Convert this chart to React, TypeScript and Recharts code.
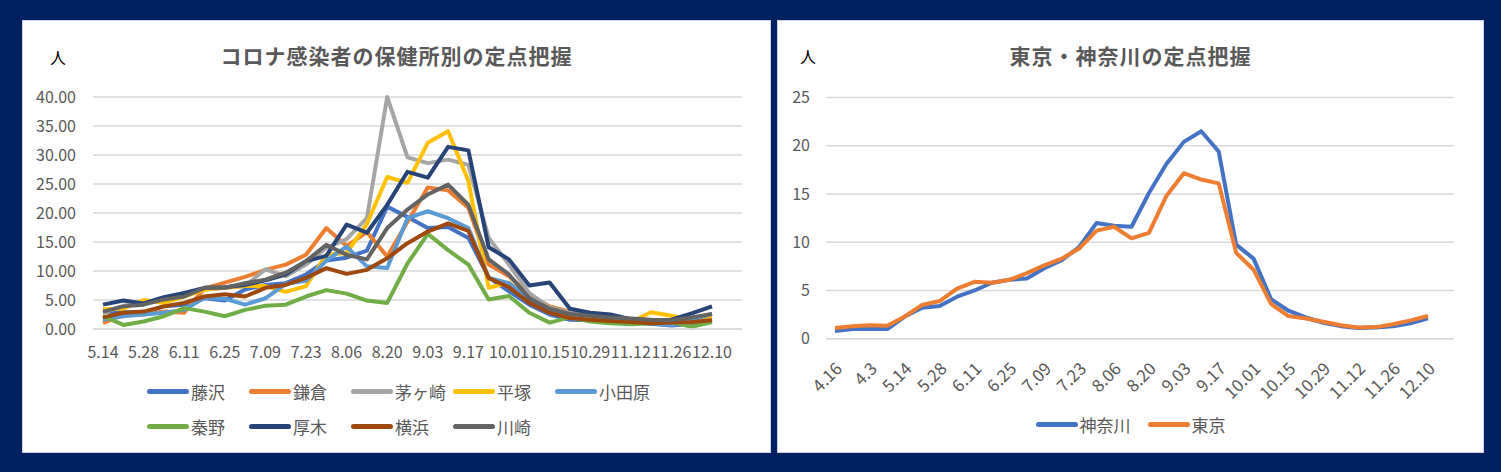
import { LineChart, Line, XAxis, YAxis, CartesianGrid, Legend } from 'recharts'

const FONT = '"Noto Sans CJK JP", "Noto Sans", sans-serif'
const TEXT = '#595959'
const GRID = '#d9d9d9'

// --- left chart: 保健所別 (weekly, 5.14 - 12.10)
const weeks = [
  '5.14', '5.21', '5.28', '6.04', '6.11', '6.18', '6.25', '7.02', '7.09', '7.16', '7.23',
  '7.30', '8.06', '8.13', '8.20', '8.27', '9.03', '9.10', '9.17', '9.24', '10.01', '10.08',
  '10.15', '10.22', '10.29', '11.05', '11.12', '11.19', '11.26', '12.03', '12.10',
]
const fujisawa = [3.0, 2.9, 2.8, 3.9, 4.2, 5.3, 4.9, 6.8, 7.6, 7.9, 9.4, 11.8, 12.3, 13.5, 21.1, 19.3, 17.4, 17.6, 15.7, 8.9, 6.5, 4.2, 2.5, 1.6, 1.5, 1.3, 1.1, 0.9, 0.6, 0.9, 1.6]
const kamakura = [1.0, 2.5, 2.5, 3.0, 2.8, 7.0, 8.0, 9.0, 10.2, 11.1, 12.8, 17.4, 14.3, 16.7, 12.5, 18.5, 24.4, 23.9, 20.9, 11.1, 9.1, 5.9, 3.9, 3.0, 2.5, 2.0, 1.5, 1.3, 1.2, 1.1, 1.2]
const chigasaki = [2.8, 4.0, 4.4, 5.1, 5.9, 6.8, 7.1, 7.4, 10.3, 9.1, 11.1, 14.0, 15.5, 19.1, 40.0, 29.6, 28.6, 29.2, 28.3, 15.7, 11.1, 6.2, 3.7, 2.8, 2.3, 2.0, 1.6, 1.3, 1.2, 1.6, 2.0]
const hiratsuka = [3.4, 3.5, 5.0, 4.5, 5.6, 6.8, 7.1, 7.4, 7.4, 6.4, 7.4, 12.8, 13.1, 18.1, 26.2, 25.2, 32.1, 34.1, 25.5, 7.1, 8.0, 5.0, 3.5, 2.3, 1.7, 1.3, 1.2, 2.9, 2.3, 1.6, 1.9]
const odawara = [1.6, 2.2, 2.5, 2.8, 3.3, 5.4, 5.2, 4.2, 5.3, 7.8, 8.3, 11.8, 14.2, 10.8, 10.5, 19.1, 20.3, 19.1, 17.4, 8.8, 7.9, 5.1, 3.0, 1.9, 1.6, 1.4, 1.2, 1.0, 0.7, 1.6, 2.6]
const hadano = [2.2, 0.7, 1.3, 2.2, 3.6, 3.0, 2.2, 3.3, 4.0, 4.2, 5.6, 6.7, 6.1, 4.9, 4.5, 11.3, 16.4, 13.6, 11.1, 5.1, 5.7, 2.8, 1.1, 2.0, 1.3, 1.0, 0.8, 1.0, 1.2, 0.4, 1.2]
const atsugi = [4.2, 4.9, 4.4, 5.5, 6.2, 7.1, 7.2, 7.6, 8.4, 9.4, 11.7, 12.6, 18.0, 16.6, 21.4, 27.1, 26.1, 31.4, 30.8, 14.1, 12.0, 7.5, 8.0, 3.5, 2.8, 2.5, 1.7, 1.5, 1.6, 2.7, 3.9]
const yokohama = [2.0, 2.8, 3.0, 3.9, 4.5, 5.6, 6.0, 5.6, 7.1, 7.6, 8.8, 10.5, 9.5, 10.2, 12.2, 14.8, 16.8, 18.2, 16.9, 8.8, 7.2, 4.5, 2.8, 1.9, 1.6, 1.4, 1.2, 1.0, 1.1, 1.2, 1.5]
const kawasaki = [3.0, 3.9, 4.2, 5.1, 5.6, 7.1, 7.1, 7.9, 8.5, 9.7, 11.7, 14.5, 12.8, 12.0, 17.4, 20.6, 23.2, 24.9, 21.4, 12.0, 9.4, 5.3, 3.5, 2.6, 2.3, 2.0, 1.8, 1.6, 1.5, 2.0, 2.6]
const leftTicks = [0, 5, 10, 15, 20, 25, 30, 35, 40]

const stations = [
  { key: 'fujisawa', name: '藤沢', color: '#4472C4', values: fujisawa },
  { key: 'kamakura', name: '鎌倉', color: '#ED7D31', values: kamakura },
  { key: 'chigasaki', name: '茅ヶ崎', color: '#A5A5A5', values: chigasaki },
  { key: 'hiratsuka', name: '平塚', color: '#FFC000', values: hiratsuka },
  { key: 'odawara', name: '小田原', color: '#5B9BD5', values: odawara },
  { key: 'hadano', name: '秦野', color: '#70AD47', values: hadano },
  { key: 'atsugi', name: '厚木', color: '#264478', values: atsugi },
  { key: 'yokohama', name: '横浜', color: '#9E480E', values: yokohama },
  { key: 'kawasaki', name: '川崎', color: '#636363', values: kawasaki },
]

// --- right chart: 東京・神奈川 (weekly, 4.16 - 12.10)
const weeks2 = [
  '4.16', '4.23', '4.3', '5.07', '5.14', '5.21', '5.28', '6.04', '6.11', '6.18', '6.25', '7.02',
  '7.09', '7.16', '7.23', '7.30', '8.06', '8.13', '8.20', '8.27', '9.03', '9.10', '9.17', '9.24',
  '10.01', '10.08', '10.15', '10.22', '10.29', '11.05', '11.12', '11.19', '11.26', '12.03', '12.10',
]
const kanagawa = [0.8, 1.0, 1.0, 1.0, 2.3, 3.2, 3.4, 4.35, 5.0, 5.8, 6.1, 6.25, 7.3, 8.15, 9.5, 12.0, 11.7, 11.6, 15.1, 18.1, 20.4, 21.5, 19.4, 9.75, 8.3, 4.1, 2.9, 2.2, 1.65, 1.3, 1.1, 1.15, 1.3, 1.6, 2.1]
const tokyo = [1.1, 1.3, 1.4, 1.35, 2.3, 3.5, 3.9, 5.2, 5.9, 5.8, 6.1, 6.8, 7.6, 8.3, 9.35, 11.2, 11.6, 10.4, 10.97, 14.8, 17.15, 16.5, 16.1, 8.9, 7.15, 3.6, 2.35, 2.1, 1.75, 1.4, 1.15, 1.2, 1.5, 1.9, 2.35]
const rightTicks = [0, 5, 10, 15, 20, 25]

const prefs = [
  { key: 'kanagawa', name: '神奈川', color: '#4472C4' },
  { key: 'tokyo', name: '東京', color: '#ED7D31' },
]

const leftData = weeks.map((w, i) => {
  const row: Record<string, string | number> = { week: w }
  stations.forEach((s) => { row[s.key] = s.values[i] })
  return row
})
const rightData = weeks2.map((w, i) => ({ week: w, kanagawa: kanagawa[i], tokyo: tokyo[i] }))

const tickStyle = { fontSize: 16, fill: TEXT }

// legend drawn from the series list so the order stays as in the source
const LegendGrid = ({ items, itemWidth, justify }: any) => (
  <div style={{ display: 'flex', flexWrap: 'wrap', justifyContent: justify, columnGap: justify === 'center' ? 17 : 0 }}>
    {items.map((p: any) => (
      <div key={p.key} style={{ display: 'flex', alignItems: 'center', height: 35, width: itemWidth }}>
        <div style={{ width: 42, height: 5, borderRadius: 3, background: p.color, marginRight: 2 }} />
        <span style={{ fontSize: 17, color: TEXT, lineHeight: 1 }}>{p.name}</span>
      </div>
    ))}
  </div>
)

const SlantTick = ({ x, y, payload }: any) => (
  <text
    x={x + 4}
    y={y}
    textAnchor="end"
    dy="0.35em"
    transform={`rotate(-45 ${x + 4} ${y})`}
    fontSize={17}
    fill={TEXT}
  >
    {payload.value}
  </text>
)

const panel = (left: number, width: number) => ({
  position: 'absolute' as const,
  left,
  top: 20,
  width,
  height: 433,
  background: '#fff',
  boxShadow: 'inset 0 0 0 1px #cdd3e3',
})

const title = { position: 'absolute' as const, left: 0, width: '100%', top: 24, textAlign: 'center' as const, fontSize: 21, fontWeight: 700, color: TEXT, letterSpacing: 1, lineHeight: '22px' }
const unit = { position: 'absolute' as const, fontSize: 16, color: '#000', lineHeight: '16px' }

export default function App() {
  return (
    <div style={{ position: 'fixed', left: 0, top: 0, width: 1501, height: 472, background: '#002060', fontFamily: FONT }}>
      <div style={panel(22, 749)}>
        <LineChart width={749} height={433} data={leftData} margin={{ top: 77, right: 29, left: 0, bottom: 94 }}>
          <CartesianGrid horizontal vertical={false} stroke={GRID} strokeWidth={1.5} />
          <XAxis
            dataKey="week"
            interval={1}
            padding={{ left: 10, right: 30 }}
            tick={tickStyle}
            tickLine={false}
            tickMargin={12}
            height={30}
            axisLine={{ stroke: GRID, strokeWidth: 1.5 }}
          />
          <YAxis
            domain={[0, 40]}
            ticks={leftTicks}
            tickFormatter={(v: number) => v.toFixed(2)}
            width={71}
            tick={tickStyle}
            tickMargin={11}
            axisLine={false}
            tickLine={false}
          />
          <Legend
            layout="horizontal"
            verticalAlign="middle"
            align="center"
            wrapperStyle={{ top: 354, left: 125, width: 520, height: 70 }}
            content={() => <LegendGrid items={stations} itemWidth={102} justify="flex-start" />}
          />
          {stations.map((s) => (
            <Line
              key={s.key}
              dataKey={s.key}
              name={s.name}
              stroke={s.color}
              strokeWidth={4}
              dot={false}
              strokeLinejoin="round"
              isAnimationActive={false}
            />
          ))}
        </LineChart>
        <div style={title}>コロナ感染者の保健所別の定点把握</div>
        <div style={{ ...unit, left: 28, top: 29 }}>人</div>
      </div>

      <div style={panel(777, 707)}>
        <LineChart width={707} height={433} data={rightData} margin={{ top: 77.5, right: 30, left: 0, bottom: 54.3 }}>
          <CartesianGrid horizontal vertical={false} stroke={GRID} strokeWidth={1.5} />
          <XAxis
            dataKey="week"
            interval={1}
            padding={{ left: 9, right: 26 }}
            tick={<SlantTick />}
            tickLine={false}
            tickMargin={21}
            height={60}
            axisLine={{ stroke: GRID, strokeWidth: 1.5 }}
          />
          <YAxis
            domain={[0, 25]}
            ticks={rightTicks}
            width={49}
            tick={tickStyle}
            tickMargin={10}
            axisLine={false}
            tickLine={false}
          />
          <Legend
            layout="horizontal"
            verticalAlign="middle"
            align="center"
            wrapperStyle={{ top: 387, left: 0, width: 707, height: 35 }}
            content={() => <LegendGrid items={prefs} itemWidth="auto" justify="center" />}
          />
          {prefs.map((p) => (
            <Line
              key={p.key}
              dataKey={p.key}
              name={p.name}
              stroke={p.color}
              strokeWidth={4}
              dot={false}
              strokeLinejoin="round"
              isAnimationActive={false}
            />
          ))}
        </LineChart>
        <div style={title}>東京・神奈川の定点把握</div>
        <div style={{ ...unit, left: 23, top: 28 }}>人</div>
      </div>
    </div>
  )
}
